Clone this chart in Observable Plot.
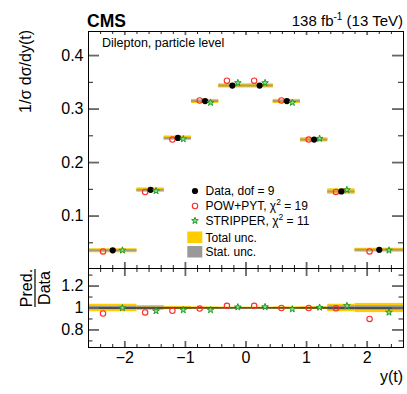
<!DOCTYPE html>
<html><head><meta charset="utf-8">
<script src="https://cdn.jsdelivr.net/npm/d3@7"></script>
<script src="https://cdn.jsdelivr.net/npm/@observablehq/plot@0.6"></script>
<style>
html,body{margin:0;padding:0;background:#fff;}
#chart{position:relative;width:407px;height:394px;font-family:"Liberation Sans",Arial,sans-serif;}
#chart svg{position:absolute;left:0;top:0;}
</style></head><body><div id="chart"></div>
<script>
// ---- data ----
const binEdges  = [-2.6, -1.8, -1.35, -0.9, -0.45, 0, 0.45, 0.9, 1.35, 1.8, 2.6];
const dataVals  = [0.036, 0.149, 0.246, 0.315, 0.344, 0.344, 0.315, 0.243, 0.146, 0.037];
const powVals   = [0.034, 0.145, 0.243, 0.316, 0.353, 0.353, 0.316, 0.243, 0.145, 0.034];
const strVals   = [0.036, 0.147, 0.244, 0.312, 0.349, 0.349, 0.312, 0.245, 0.149, 0.036];
const powRatio  = [0.950, 0.960, 0.975, 0.995, 1.020, 1.020, 1.000, 1.000, 0.997, 0.900];
const strRatio  = [1.000, 0.973, 0.982, 0.982, 1.008, 1.010, 0.990, 1.005, 1.020, 0.960];
const totUnc    = [0.034, 0.023, 0.015, 0.010, 0.008, 0.008, 0.010, 0.012, 0.034, 0.042];
const statUnc   = [0.015, 0.011, 0.006, 0.004, 0.003, 0.003, 0.004, 0.006, 0.018, 0.020];
const xTicksMajor = [-2, -1, 0, 1, 2];
const xTicksMinor = [-2.4,-2.2,-1.8,-1.6,-1.4,-1.2,-0.8,-0.6,-0.4,-0.2,0.2,0.4,0.6,0.8,1.2,1.4,1.6,1.8,2.2,2.4];
const yTicksMain  = [0.1, 0.2, 0.3, 0.4];
const yMinorMain  = [0.05, 0.15, 0.25, 0.35];
const yTicksRatio = [0.8, 1, 1.2];
const yMinorRatio = [0.7, 0.9, 1.1, 1.3];
const legendLabels = ["Data, dof = 9", "POW+PYT, χ", "STRIPPER, χ", "Total unc.", "Stat. unc."];
const chi2 = [null, 19, 11];

const bins = dataVals.map((v, i) => ({
  x1: binEdges[i], x2: binEdges[i + 1],
  c: (binEdges[i] + binEdges[i + 1]) / 2, w: binEdges[i + 1] - binEdges[i],
  data: v, pow: powVals[i], str: strVals[i],
  rp: powRatio[i], rs: strRatio[i], tot: totUnc[i], stat: statUnc[i]
}));

const FONT = '"Liberation Sans", Arial, sans-serif';
const W = 407, H = 394, ML = 88, MR = 4;
const FW = W - ML - MR;
const mainTop = 31, mainBot = 268, ratioBot = 347;
const FHm = mainBot - mainTop, FHr = ratioBot - mainBot;
const YEL = "#ffcc00", GRAY = "#999999", RED = "#ff2a2a", GREEN = "#1e9e1e", STARFILL = "#9ad89a";
const STAR_R = 2.1;
const fmtX = d => d < 0 ? "\u2212" + Math.abs(d) : String(d);

function ticks(FH, topMaj, topMin, botMaj, botMin, yMaj, yMin, yLen, yMinLen) {
  return [
    Plot.tickX(xTicksMajor, {x: d => d, insetTop: FH - botMaj, stroke: "#666", strokeWidth: 1.8}),
    Plot.tickX(xTicksMinor, {x: d => d, insetTop: FH - botMin, stroke: "#222", strokeWidth: 1}),
    Plot.tickX(xTicksMajor, {x: d => d, insetBottom: FH - topMaj, stroke: "#666", strokeWidth: 1.8}),
    Plot.tickX(xTicksMinor, {x: d => d, insetBottom: FH - topMin, stroke: "#222", strokeWidth: 1}),
    Plot.tickY(yMaj, {y: d => d, insetRight: FW - yLen, stroke: "#666", strokeWidth: 1.8}),
    Plot.tickY(yMin, {y: d => d, insetRight: FW - yMinLen, stroke: "#222", strokeWidth: 1}),
    Plot.tickY(yMaj, {y: d => d, insetLeft: FW - yLen, stroke: "#666", strokeWidth: 1.8}),
    Plot.tickY(yMin, {y: d => d, insetLeft: FW - yMinLen, stroke: "#222", strokeWidth: 1})
  ];
}

const main = Plot.plot({
  width: W, height: H, marginTop: mainTop, marginBottom: H - mainBot, marginLeft: ML, marginRight: MR,
  x: {domain: [-2.6, 2.6], axis: null},
  y: {domain: [0.002, 0.445], axis: null},
  style: {background: "transparent", fontFamily: FONT, overflow: "visible"},
  marks: [
    Plot.ruleY(bins, {x1: "x1", x2: "x2", y: "data", stroke: YEL, strokeWidth: 4}),
    Plot.rect(bins, {x1: "x1", x2: "x2", y1: d => d.data * (1 - d.tot), y2: d => d.data * (1 + d.tot), fill: YEL}),
    Plot.ruleY(bins, {x1: "x1", x2: "x2", y: "data", stroke: "#a39d8c", strokeWidth: 2}),
    ...ticks(FHm, 4, 3, 6, 3, yTicksMain, yMinorMain, 11, 5),
    Plot.frame({stroke: "black", strokeWidth: 1}),
    Plot.axisY(yTicksMain, {anchor: "left", tickSize: 0, tickPadding: 5, fontSize: 16, label: null, tickFormat: d => String(d), fill: "black"}),
    Plot.dot(bins, {x: d => d.c - 0.2 * d.w, y: "pow", r: 2.7, stroke: RED, fill: "none", strokeWidth: 1.1}),
    Plot.dot(bins, {x: "c", y: "data", r: 3.1, fill: "black", stroke: "none"}),
    Plot.dot(bins, {x: d => d.c + 0.2 * d.w, y: "str", symbol: "star", r: STAR_R, stroke: GREEN, fill: STARFILL, strokeWidth: 1})
  ]
});

const ratio = Plot.plot({
  width: W, height: H, marginTop: mainBot, marginBottom: H - ratioBot, marginLeft: ML, marginRight: MR,
  x: {domain: [-2.6, 2.6], axis: null},
  y: {domain: [0.64, 1.36], axis: null},
  style: {background: "transparent", fontFamily: FONT, overflow: "visible"},
  marks: [
    Plot.rect(bins, {x1: "x1", x2: "x2", y1: d => 1 - d.tot, y2: d => 1 + d.tot, fill: YEL}),
    Plot.rect(bins, {x1: "x1", x2: "x2", y1: d => 1 - d.stat, y2: d => 1 + d.stat, fill: GRAY}),
    Plot.ruleY([1], {stroke: "black", strokeWidth: 1}),
    ...ticks(FHr, 8, 4, 6, 3, yTicksRatio, yMinorRatio, 11, 4.5),
    Plot.frame({stroke: "black", strokeWidth: 1}),
    Plot.axisY(yTicksRatio, {anchor: "left", tickSize: 0, tickPadding: 5, fontSize: 16, label: null, tickFormat: d => String(d), fill: "black"}),
    Plot.axisX(xTicksMajor, {anchor: "bottom", tickSize: 0, tickPadding: 4, fontSize: 16, label: null, tickFormat: fmtX, fill: "black"}),
    Plot.dot(bins, {x: d => d.c - 0.2 * d.w, y: "rp", r: 2.7, stroke: RED, fill: "none", strokeWidth: 1.1}),
    Plot.dot(bins, {x: d => d.c + 0.2 * d.w, y: "rs", symbol: "star", r: STAR_R, stroke: GREEN, fill: STARFILL, strokeWidth: 1})
  ]
});

const chart = document.getElementById("chart");
chart.appendChild(main);
chart.appendChild(ratio);

// ---- text overlay ----
const svg = d3.select(chart).append("svg").attr("width", W).attr("height", H)
  .style("font-family", FONT).style("overflow", "visible");

svg.append("text").attr("x", 87).attr("y", 26.5).attr("font-size", 17.5).attr("font-weight", "bold").text("CMS");
const lumi = svg.append("text").attr("x", 403).attr("y", 26).attr("font-size", 15).attr("text-anchor", "end");
lumi.append("tspan").text("138 fb");
lumi.append("tspan").attr("font-size", 10).attr("dy", -6).text("-1");
lumi.append("tspan").attr("dy", 6).text(" (13 TeV)");

svg.append("text").attr("x", 102).attr("y", 46.5).attr("font-size", 12.5).text("Dilepton, particle level");

svg.append("text").attr("transform", "translate(30.5,30) rotate(-90)").attr("text-anchor", "end")
  .attr("font-size", 16).text("1/\u03c3 d\u03c3/dy(t)");

svg.append("text").attr("transform", "translate(31.5,288) rotate(-90)").attr("text-anchor", "middle")
  .attr("font-size", 16).text("Pred.");
svg.append("line").attr("x1", 35).attr("x2", 35).attr("y1", 269).attr("y2", 307).attr("stroke", "black").attr("stroke-width", 1.2);
svg.append("text").attr("transform", "translate(49.5,288) rotate(-90)").attr("text-anchor", "middle")
  .attr("font-size", 16).text("Data");

svg.append("text").attr("x", 403).attr("y", 382).attr("font-size", 16).attr("text-anchor", "end").text("y(t)");

// legend
const rowsY = [191, 206, 220.7, 237.3, 251.7];
const lx = 195, tx = 205.5;
svg.append("circle").attr("cx", lx).attr("cy", rowsY[0]).attr("r", 3.1).attr("fill", "black");
svg.append("circle").attr("cx", lx).attr("cy", rowsY[1]).attr("r", 2.7).attr("fill", "none").attr("stroke", RED).attr("stroke-width", 1.1);
svg.append("path").attr("d", d3.symbol(d3.symbolStar, Math.PI * STAR_R * STAR_R)()).attr("transform", `translate(${lx},${rowsY[2]})`)
  .attr("fill", STARFILL).attr("stroke", GREEN).attr("stroke-width", 1);
svg.append("rect").attr("x", 187.3).attr("y", 231.5).attr("width", 15).attr("height", 11.5).attr("fill", YEL);
svg.append("rect").attr("x", 187.3).attr("y", 246).attr("width", 15).attr("height", 11.5).attr("fill", GRAY);
legendLabels.forEach((t, i) => {
  const el = svg.append("text").attr("x", tx).attr("y", rowsY[i]).attr("dy", "0.36em").attr("font-size", 12);
  el.append("tspan").text(t);
  if (chi2[i] != null) {
    el.append("tspan").attr("font-size", 8.5).attr("dy", -5).text("2");
    el.append("tspan").attr("dy", 5).text(" = " + chi2[i]);
  }
});
</script>
</body></html>
